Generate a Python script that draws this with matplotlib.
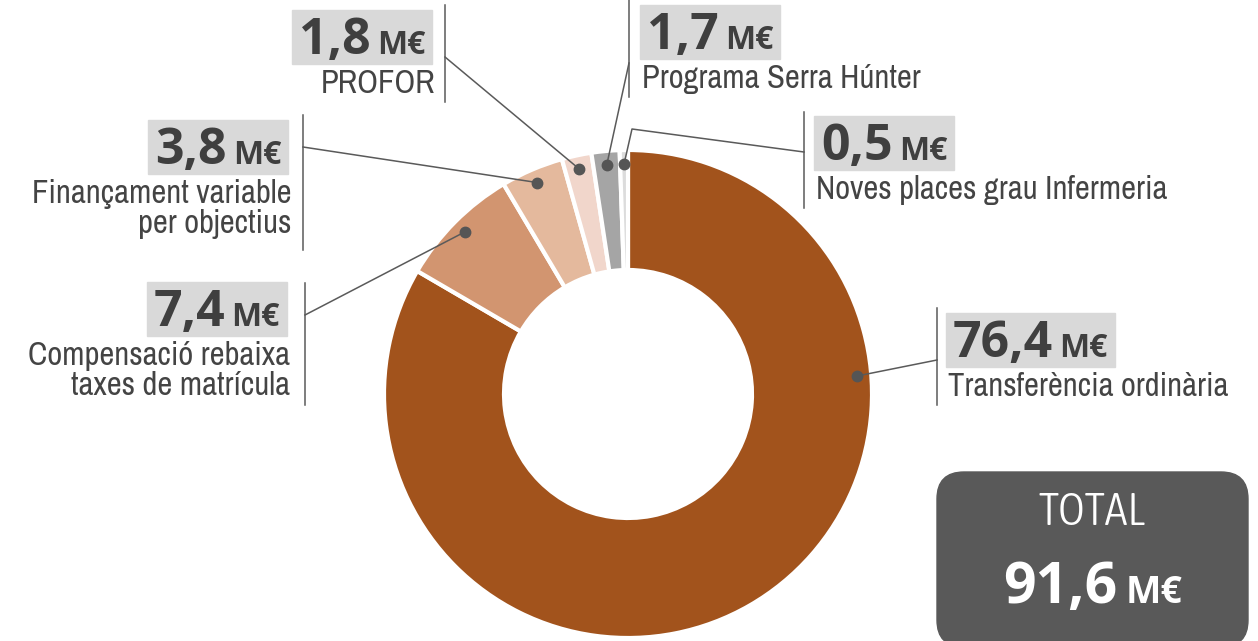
import matplotlib
matplotlib.use("Agg")
import matplotlib.pyplot as plt
from matplotlib import font_manager
from matplotlib.font_manager import FontProperties
from matplotlib.patches import Rectangle, FancyBboxPatch
import numpy as np

# data
names = ["Transferència ordinària", "Compensació rebaixa\ntaxes de matrícula",
         "Finançament variable\nper objectius", "PROFOR",
         "Programa Serra Húnter", "Noves places grau Infermeria"]
values = [76.4, 7.4, 3.8, 1.8, 1.7, 0.5]
value_labels = ["76,4", "7,4", "3,8", "1,8", "1,7", "0,5"]
total_label = "91,6"
unit = "M€"
colors = ["#A2531C", "#D29570", "#E4B99D", "#F1D6CB", "#A5A5A5", "#DCDCDC"]

installed = {f.name for f in font_manager.fontManager.ttflist}
def pick(*cands):
    return next((c for c in cands if c in installed), "DejaVu Sans")
BOLD = pick("Open Sans", "Liberation Sans", "DejaVu Sans")


def w_num(f):
    w = f.weight
    if isinstance(w, str):
        w = font_manager.weight_dict.get(w, 400)
    return w


# look for a narrow face that is not bold
narrow = [f for f in font_manager.fontManager.ttflist
          if ("condensed" in f.name.lower() or "narrow" in f.name.lower()
              or "condensed" in str(f.stretch)) and f.style == "normal"
          and w_num(f) < 600]
narrow.sort(key=lambda f: (abs(w_num(f) - 400), "dejavu" in f.name.lower()))
light = sorted(narrow, key=lambda f: abs(w_num(f) - 300))


def fp(size, src):
    if src:
        return FontProperties(fname=src[0].fname, size=size)
    return FontProperties(family=pick("Roboto", "DejaVu Sans"), size=size,
                          stretch="condensed")


VAL = "#3F3F3F"
TXT = "#444444"
LINE = "#5A5A5A"
BOX = "#D9D9D9"

fig = plt.figure(figsize=(12.58, 6.41), dpi=100)
ax = fig.add_axes([0, 0, 1, 1])
cx, cy, R, W = 628, 394, 244, 120
wedges, _ = ax.pie(values, colors=colors, center=(cx, cy), radius=R,
                   startangle=-90, counterclock=True,
                   wedgeprops=dict(width=W, edgecolor="white", linewidth=3))
ax.set_xlim(0, 1258)
ax.set_ylim(641, 0)
ax.set_aspect("auto")
ax.axis("off")
r = fig.canvas.get_renderer()

# label layout: side, box edge x, box top y, vertical line (x, y0, y1), leader points
layout = [
    ("L", 946, 313, (937, 308, 405), [(937, 360)]),
    ("R", 287, 282, (305, 283, 405), [(305, 315)]),
    ("R", 288, 120, (303, 115, 250), [(303, 147)]),
    ("R", 432, 10, (445, 5, 102), [(445, 57)]),
    ("L", 640, 5, (629, 0, 97), [(629, 63)]),
    ("L", 814, 116, (804, 112, 208), [(632, 129), (804, 152)]),
]
dot_at = [-4.5, None, None, None, None, None]
dot_r = 230
LBL = 23.5

for i, (w, (side, bx, top, vl, pts)) in enumerate(zip(wedges, layout)):
    ang = dot_at[i] if dot_at[i] is not None else (w.theta1 + w.theta2) / 2
    dx = cx + dot_r * np.cos(np.radians(ang))
    dy = cy + dot_r * np.sin(np.radians(ang))
    xs = [dx] + [p[0] for p in pts]
    ys = [dy] + [p[1] for p in pts]
    ax.plot(xs, ys, color=LINE, lw=1.1, zorder=3)
    ax.plot(dx, dy, "o", color="#555555", ms=7.5, zorder=4)
    ax.plot([vl[0], vl[0]], [vl[1], vl[2]], color=LINE, lw=1.1, zorder=3)

    base = top + 44
    pad, gap = 7, 6
    if side == "L":
        t1 = ax.text(bx + pad, base, value_labels[i], ha="left", va="baseline",
                     fontsize=36, weight="bold", color=VAL, family=BOLD, zorder=5)
        w1 = t1.get_window_extent(r).width
        t2 = ax.text(bx + pad + w1 + gap, base, unit, ha="left", va="baseline",
                     fontsize=23, weight="bold", color=VAL, family=BOLD, zorder=5)
        w2 = t2.get_window_extent(r).width
        x0, x1 = bx, bx + pad + w1 + gap + w2 + pad
        ax.text(bx + 2, top + 54 + 5, names[i], ha="left", va="top",
                fontproperties=fp(LBL, narrow), color=TXT, linespacing=0.98, zorder=5)
    else:
        t2 = ax.text(bx - pad, base, unit, ha="right", va="baseline",
                     fontsize=23, weight="bold", color=VAL, family=BOLD, zorder=5)
        w2 = t2.get_window_extent(r).width
        t1 = ax.text(bx - pad - w2 - gap, base, value_labels[i], ha="right", va="baseline",
                     fontsize=36, weight="bold", color=VAL, family=BOLD, zorder=5)
        w1 = t1.get_window_extent(r).width
        x0, x1 = bx - pad - w2 - gap - w1 - pad, bx
        ax.text(bx + 3, top + 54 + 5, names[i], ha="right", va="top",
                fontproperties=fp(LBL, narrow), color=TXT, linespacing=0.98,
                multialignment="right", zorder=5)
    ax.add_patch(Rectangle((x0, top), x1 - x0, 54, color=BOX, zorder=2))

# total box
ax.add_patch(FancyBboxPatch((937 + 27, 472 + 27), 311 - 54, 175 - 54,
                            boxstyle="round,pad=27", color="#595959", zorder=2))
ax.text(1092, 525, "TOTAL", ha="center", va="baseline",
        fontproperties=fp(33, light), color="white", zorder=5)
tn = ax.text(0, 603, total_label, ha="left", va="baseline", fontsize=41,
             weight="bold", color="white", family=BOLD, zorder=5)
tu = ax.text(0, 603, unit, ha="left", va="baseline", fontsize=27,
             weight="bold", color="white", family=BOLD, zorder=5)
wn = tn.get_window_extent(r).width
wu = tu.get_window_extent(r).width
start = 1093 - (wn + 8 + wu) / 2
tn.set_x(start)
tu.set_x(start + wn + 8)

fig.savefig("out.png", dpi=100)
